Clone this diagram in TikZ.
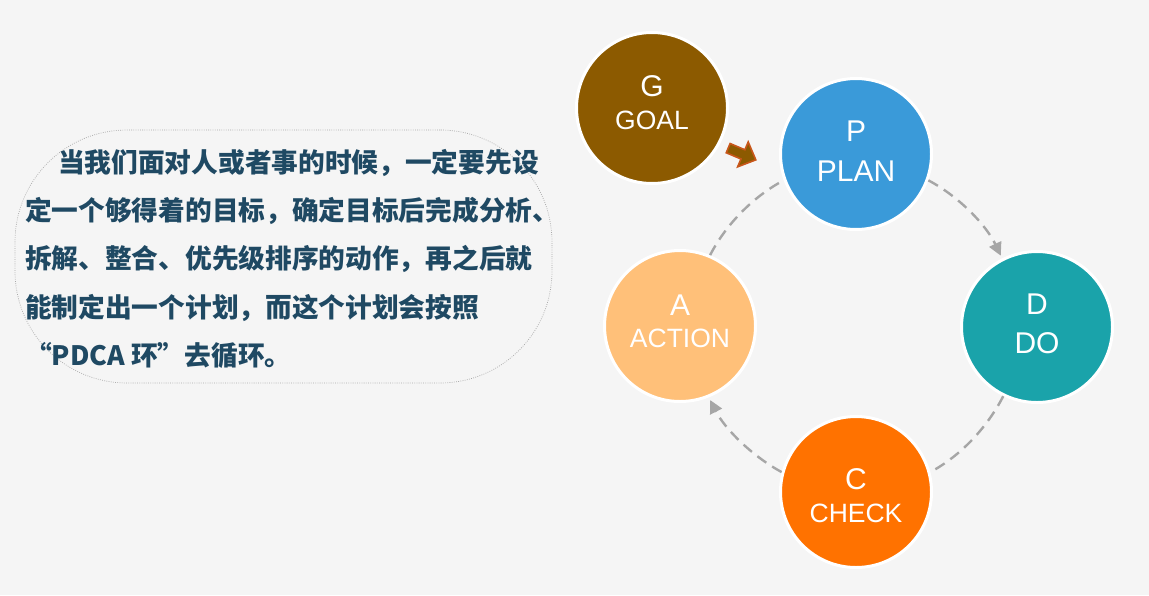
\documentclass[tikz,border=0pt]{standalone}
\usepackage{fontspec}
\setmainfont{Liberation Sans}
\newfontfamily\cjk{Noto Sans CJK SC}
\usetikzlibrary{arrows.meta,calc}
\definecolor{bg}{HTML}{F5F5F5}
\definecolor{goalc}{HTML}{8C5A00}
\definecolor{planc}{HTML}{3A9AD9}
\definecolor{doc}{HTML}{1AA3AA}
\definecolor{checkc}{HTML}{FF7200}
\definecolor{actionc}{HTML}{FFC079}
\definecolor{ringgray}{HTML}{A6A6A6}
\definecolor{txt}{HTML}{1F4963}
\definecolor{arroworange}{HTML}{C8561A}
\definecolor{boxgray}{HTML}{A8A8A8}
\begin{document}
\begin{tikzpicture}[x=1pt,y=1pt,
  disc/.style={circle, fill=#1, draw=white, line width=3pt, minimum size=151pt, inner sep=0pt},
  big/.style={font=\fontsize{30}{30}\selectfont, text=white, inner sep=0pt},
  small/.style={font=\fontsize{26.5}{26.5}\selectfont, text=white, inner sep=0pt},
  cyc/.style={draw=ringgray, line width=2.4pt, dash pattern=on 11pt off 7pt, looseness=0.85},
  cycarrow/.style={cyc, -{Triangle[length=13pt,width=13pt]}, shorten >=3pt},
  body/.style={font=\cjk\bfseries\fontsize{26.7}{26.7}\selectfont, text=txt, anchor=base west, inner sep=0pt},
  blockarrow/.style={fill=goalc, draw=arroworange, line width=1.6pt, line join=miter}
]
\useasboundingbox (0,0) rectangle (1149,-595);
\fill[bg] (0,0) rectangle (1149,-595);

% text box
\node[draw=boxgray, line width=0.7pt, dash pattern=on 0.8pt off 1.4pt, rounded corners=112pt,
      minimum width=537pt, minimum height=253pt, inner sep=0pt] (box) at (283.5,-256.5) {};
\node[body] (l1) at (58,-172) {当我们面对人或者事的时候，一定要先设};
\node[body] (l2) at (25,-220) {定一个够得着的目标，确定目标后完成分析、};
\node[body] (l3) at (25,-268) {拆解、整合、优先级排序的动作，再之后就};
\node[body] (l4) at (25,-317) {能制定出一个计划，而这个计划会按照};
\node[body] (l5) at (25,-365) {“PDCA 环”去循环。};

% circles
\node[disc=goalc] (G) at (652,-108) {};
\node[disc=planc] (P) at (856,-154) {};
\node[disc=doc] (D) at (1037,-327) {};
\node[disc=checkc] (C) at (856,-492) {};
\node[disc=actionc] (A) at (680,-326) {};

\node[big] (Gl) at ($(G)+(0,22)$) {G};
\node[small] (Gs) at ($(G)+(0,-12)$) {GOAL};
\node[big] (Pl) at ($(P)+(0,23)$) {P};
\node[big] (Ps) at ($(P)+(0,-17)$) {PLAN};
\node[big] (Dl) at ($(D)+(0,23)$) {D};
\node[big] (Ds) at ($(D)+(0,-16)$) {DO};
\node[big] (Cl) at ($(C)+(0,13)$) {C};
\node[small] (Cs) at ($(C)+(0,-21)$) {CHECK};
\node[big] (Al) at ($(A)+(0,21)$) {A};
\node[small] (As) at ($(A)+(0,-12)$) {ACTION};

% G -> P block arrow
\begin{scope}[shift={(742,-154)}, rotate=-23]
  \draw[blockarrow] (-15,-5) -- (1,-5) -- (1,-13.5) -- (15,0) -- (1,13.5) -- (1,5) -- (-15,5) -- cycle;
\end{scope}

% cycle
\draw[cycarrow] (P.-20.5) to[out=-27.8, in=115.4] (D.117.5);
\draw[cyc] (D.-116) to[out=-117.3, in=28.3] (C.15.4);
\draw[cycarrow] (C.165) to[out=151.5, in=-63.1] (A.-68.4);
\draw[cyc] (A.67) to[out=62.6, in=208.2] (P.200.4);
\end{tikzpicture}
\end{document}
